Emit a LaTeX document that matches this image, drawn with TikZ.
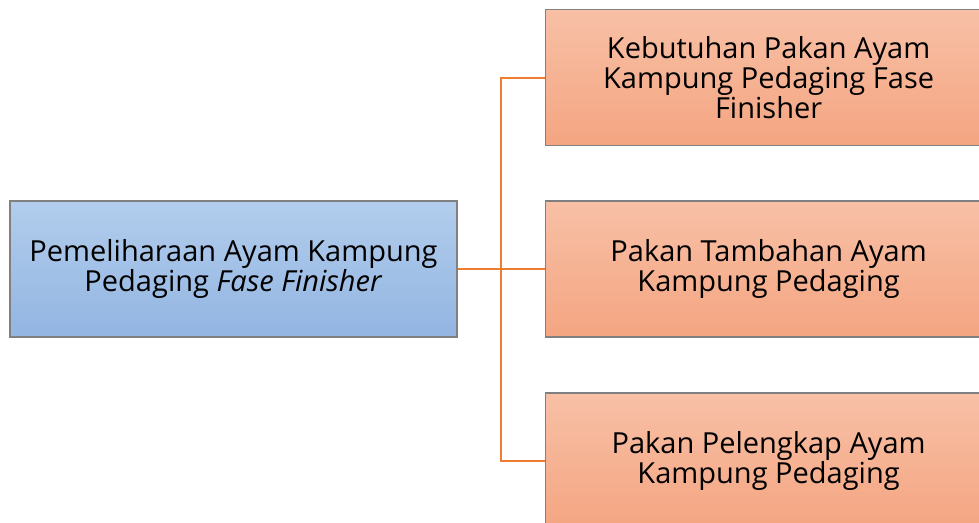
\documentclass[tikz,border=0pt]{standalone}
\usepackage{fontspec}
\setmainfont{Open Sans}
\definecolor{bluetop}{HTML}{B2CDEC}
\definecolor{bluebot}{HTML}{93B5E2}
\definecolor{ortop}{HTML}{F8C0A6}
\definecolor{orbot}{HTML}{F4A581}
\definecolor{conn}{HTML}{ED7D31}
\definecolor{bord}{HTML}{808080}
\begin{document}
\begin{tikzpicture}[x=1pt,y=-1pt,
  box/.style={draw=bord, line width=1.2pt, minimum height=136pt, align=center,
     font=\fontsize{29}{28.5}\selectfont, inner sep=0pt},
  bluebox/.style={box, top color=bluetop, bottom color=bluebot, minimum width=447pt},
  orbox/.style={box, top color=ortop, bottom color=orbot, minimum width=446pt},
  link/.style={draw=conn, line width=2pt}]
\useasboundingbox (0,0) rectangle (979,522);
\clip (0,0) rectangle (979,522);
\node[bluebox] (root) at (233.5,269) {Pemeliharaan Ayam Kampung\\Pedaging \textit{Fase Finisher}};
\node[orbox, anchor=west] (a) at (545,77.5) {Kebutuhan Pakan Ayam\\Kampung Pedaging Fase\\Finisher};
\node[orbox, anchor=west] (b) at (545,269) {Pakan Tambahan Ayam\\Kampung Pedaging};
\node[orbox, anchor=west] (c) at (545,461) {Pakan Pelengkap Ayam\\Kampung Pedaging};
\coordinate (j) at (501,269);
\draw[link] (root.east) -- (j);
\draw[link] (j) -- (j |- a.west) -- (a.west);
\draw[link] (j) -- (b.west);
\draw[link] (j) -- (j |- c.west) -- (c.west);
\end{tikzpicture}
\end{document}
